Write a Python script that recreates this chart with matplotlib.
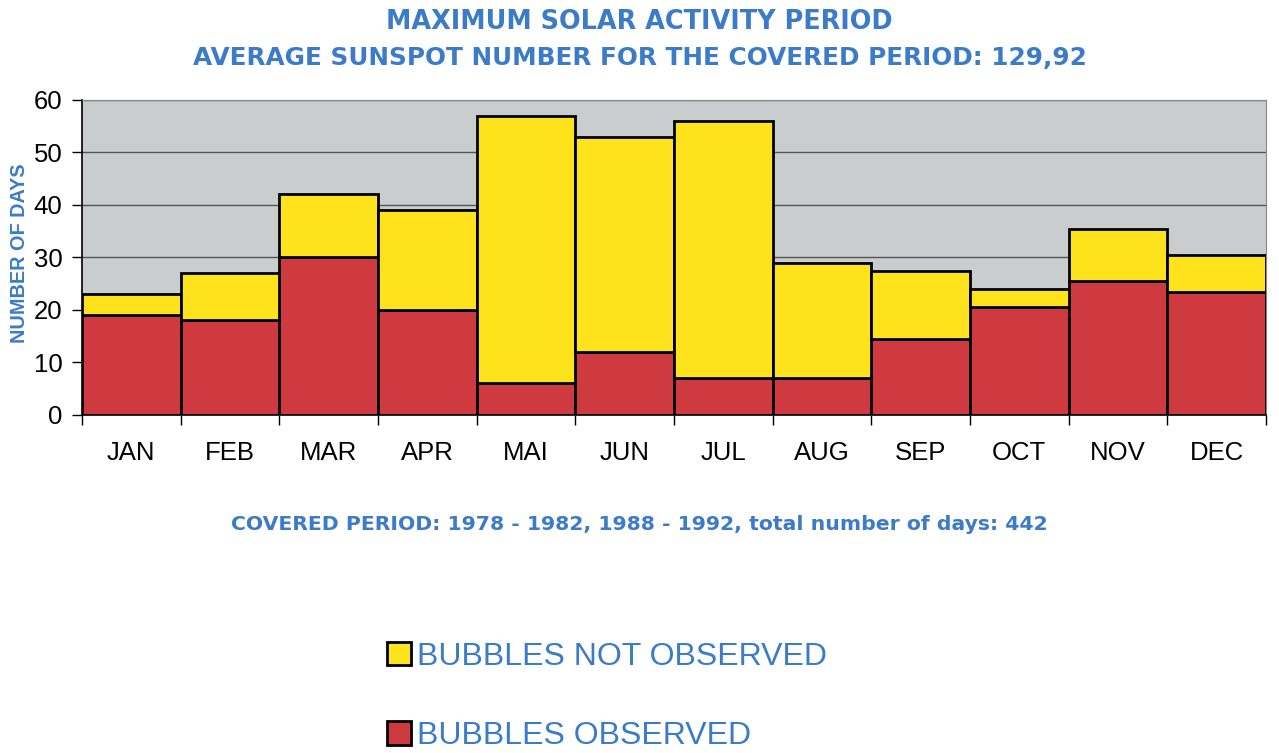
import matplotlib.pyplot as plt
import numpy as np

plt.rcParams['font.family'] = ['Liberation Sans', 'DejaVu Sans']

months = ["JAN", "FEB", "MAR", "APR", "MAI", "JUN", "JUL", "AUG", "SEP", "OCT", "NOV", "DEC"]
observed = [19, 18, 30, 20, 6, 12, 7, 7, 14.5, 20.5, 25.5, 23.5]
total = [23, 27, 42, 39, 57, 53, 56, 29, 27.5, 24, 35.5, 30.5]
not_observed = [t - o for t, o in zip(total, observed)]

blue = "#3b7bc8"
yellow = "#fde21c"
red = "#cf3a40"

fig = plt.figure(figsize=(12.79, 7.53), dpi=100)
ax = fig.add_axes([82 / 1279, 1 - 415 / 753, (1266 - 82) / 1279, 315 / 753])
ax.set_facecolor("#c9cdcd")

x = np.arange(len(months))
ax.bar(x, observed, width=1.0, color=red, edgecolor="black", linewidth=2,
       label="BUBBLES OBSERVED", zorder=3)
ax.bar(x, not_observed, width=1.0, bottom=observed, color=yellow, edgecolor="black",
       linewidth=2, label="BUBBLES NOT OBSERVED", zorder=3)

ax.set_xlim(-0.5, len(months) - 0.5)
ax.set_ylim(0, 60)
ax.set_yticks(range(0, 61, 10))
ax.yaxis.grid(True, color="#555555", linewidth=1)
ax.set_axisbelow(True)

# category labels centred, ticks between the bars
ax.set_xticks(x)
ax.set_xticklabels(months, fontsize=18.5)
ax.set_xticks(np.arange(-0.5, len(months)), minor=True)
ax.tick_params(axis="x", which="major", length=0, pad=19)
ax.tick_params(axis="x", which="minor", length=7, width=1)
ax.tick_params(axis="y", labelsize=18.5, length=7, width=1, pad=7)

for s in ["top", "right"]:
    ax.spines[s].set_color("#888888")
ax.spines["left"].set_linewidth(1.2)
ax.spines["bottom"].set_linewidth(1.2)

fig.text(20 / 1279, 1 - 253 / 753, "NUMBER OF DAYS", rotation=90, ha="center", va="center",
         color=blue, fontweight="bold", fontsize=14.3)

# the bold headings in the original are set wide, DejaVu bold is closer in proportion
wide = ['DejaVu Sans']
fig.text(0.5, 1 - 22 / 753, "MAXIMUM SOLAR ACTIVITY PERIOD", ha="center", va="center",
         color=blue, fontweight="bold", fontsize=18.4, family=wide)
fig.text(0.5, 1 - 58 / 753, "AVERAGE SUNSPOT NUMBER FOR THE COVERED PERIOD: 129,92",
         ha="center", va="center", color=blue, fontweight="bold", fontsize=17.8, family=wide)
fig.text(0.5, 1 - 525 / 753,
         "COVERED PERIOD: 1978 - 1982, 1988 - 1992, total number of days: 442",
         ha="center", va="center", color=blue, fontweight="bold", fontsize=14.7, family=wide)

handles, labels = ax.get_legend_handles_labels()
leg = fig.legend(handles[::-1], labels[::-1], loc="upper left",
                 bbox_to_anchor=(358 / 1279, 1 - 613 / 753), frameon=False,
                 fontsize=23, handlelength=0.75, handleheight=0.75, handletextpad=0.2,
                 labelspacing=1.55, labelcolor=blue)

fig.savefig("out.png", dpi=100)
